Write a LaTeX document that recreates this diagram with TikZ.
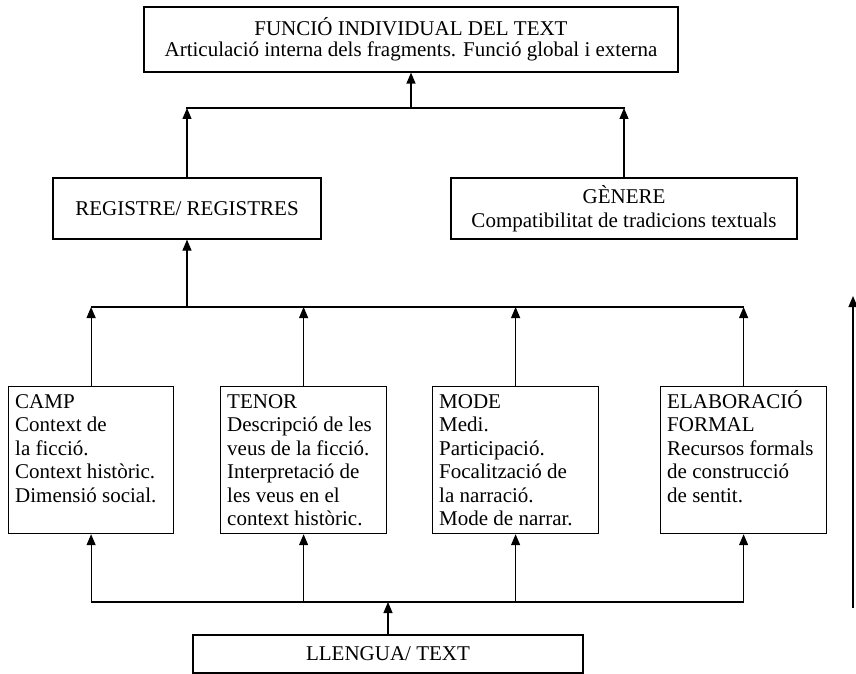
\documentclass[tikz,border=0pt]{standalone}
\usepackage{fontspec}
\setmainfont{Liberation Serif}
\usetikzlibrary{arrows.meta}
\begin{document}
\begin{tikzpicture}[x=1pt,y=-1pt,
  every node/.style={font=\fontsize{21}{23.5}\selectfont},
  cbox/.style={draw, line width=1.2pt, inner sep=0pt, align=center},
  lbox/.style={draw, line width=1.2pt, anchor=north west, inner sep=0pt, minimum height=147pt},
  ltext/.style={anchor=base west, inner sep=0pt},
  arr/.style={line width=1.2pt, line cap=rect, -{Triangle[length=11pt,width=9pt]}},
  ln/.style={line width=1.2pt, line cap=rect}]
\useasboundingbox (0,0) rectangle (856,674);
% centered boxes
\node[cbox, minimum width=534pt, minimum height=65pt, font=\fontsize{21}{21}\selectfont] (top) at (411,39.5)
  {FUNCIÓ INDIVIDUAL DEL TEXT\\Articulació interna dels fragments. Funció global i externa};
\node[cbox, minimum width=268pt, minimum height=61pt] (registre) at (187,208.5) {REGISTRE/ REGISTRES};
\node[cbox, minimum width=346pt, minimum height=61pt] (genere) at (624,208.5)
  {GÈNERE\\Compatibilitat de tradicions textuals};
\node[cbox, minimum width=390pt, minimum height=38pt] (llengua) at (388,654) {LLENGUA/ TEXT};
% lower boxes
\node[lbox, minimum width=165pt] (camp) at (8,386) {};
\node[lbox, minimum width=166pt] (tenor) at (220,386) {};
\node[lbox, minimum width=166pt] (mode) at (432,386) {};
\node[lbox, minimum width=166pt] (elab) at (660,386) {};
\node[ltext] (camptxt) at ([xshift=7pt,yshift=-22pt]camp.north west)
  {\parbox[t]{158pt}{CAMP\\Context de\\la ficció.\\Context històric.\\Dimensió social.}};
\node[ltext] (tenortxt) at ([xshift=7pt,yshift=-22pt]tenor.north west)
  {\parbox[t]{158pt}{TENOR\\Descripció de les\\veus de la ficció.\\Interpretació de\\les veus en el\\context històric.}};
\node[ltext] (modetxt) at ([xshift=7pt,yshift=-22pt]mode.north west)
  {\parbox[t]{158pt}{MODE\\Medi.\\Participació.\\Focalització de\\la narració.\\Mode de narrar.}};
\node[ltext] (elabtxt) at ([xshift=7pt,yshift=-22pt]elab.north west)
  {\parbox[t]{158pt}{ELABORACIÓ\\FORMAL\\Recursos formals\\de construcció\\de sentit.}};
% levels
\coordinate (topline) at (0,108);
\coordinate (upline) at (0,307);
\coordinate (lowline) at (0,602);
\coordinate (rbot) at (853,607);
\coordinate (rtop) at (853,296);
% top connectors
\draw[ln] (registre.north |- topline) -- (genere.north |- topline);
\draw[arr] (registre.north) -- (registre.north |- topline);
\draw[arr] (genere.north) -- (genere.north |- topline);
\draw[arr] (top.south |- topline) -- (top.south);
% middle connectors
\draw[ln] (camp.north |- upline) -- (elab.north |- upline);
\draw[arr] (registre.south |- upline) -- (registre.south);
\draw[arr] (camp.north) -- (camp.north |- upline);
\draw[arr] (tenor.north) -- (tenor.north |- upline);
\draw[arr] (mode.north) -- (mode.north |- upline);
\draw[arr] (elab.north) -- (elab.north |- upline);
% lower connectors
\draw[ln] (camp.south |- lowline) -- (elab.south |- lowline);
\draw[arr] (camp.south |- lowline) -- (camp.south);
\draw[arr] (tenor.south |- lowline) -- (tenor.south);
\draw[arr] (mode.south |- lowline) -- (mode.south);
\draw[arr] (elab.south |- lowline) -- (elab.south);
\draw[arr] (llengua.north) -- (llengua.north |- lowline);
% side arrow
\draw[arr] (rbot) -- (rtop);
\end{tikzpicture}
\end{document}
